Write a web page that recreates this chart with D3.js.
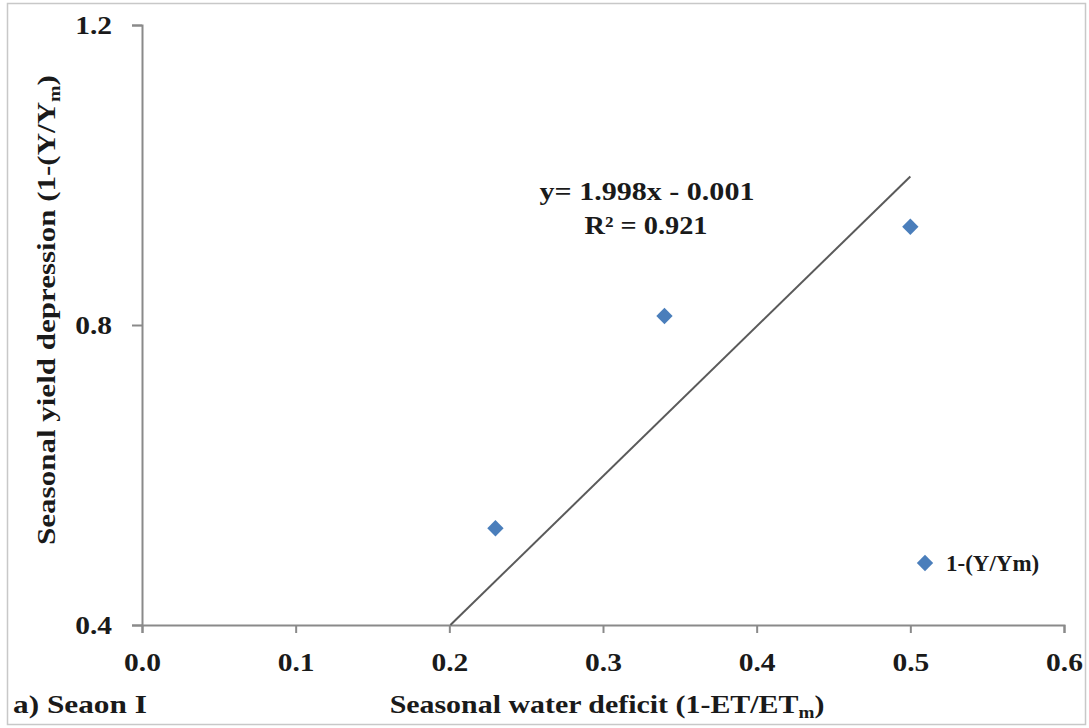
<!DOCTYPE html>
<html>
<head>
<meta charset="utf-8">
<script src="https://cdn.jsdelivr.net/npm/d3@7"></script>
<style>
  html, body { margin: 0; padding: 0; background: #fff; }
  svg text { font-family: "Liberation Serif", "Times New Roman", serif; font-weight: bold; fill: #1a1a1a; }
</style>
</head>
<body>
<svg id="chart" width="1089" height="728"></svg>
<script>
// Seasonal water deficit vs seasonal yield depression (Season I)
const waterDeficit = [0.23, 0.34, 0.50];
const yieldDepression = [0.529, 0.812, 0.931];
const seriesName = "1-(Y/Ym)";
const xTicks = [0.0, 0.1, 0.2, 0.3, 0.4, 0.5, 0.6];
const yTicks = [0.4, 0.8, 1.2];
const trendSlope = 1.998;
const trendIntercept = -0.001;
const trendR2 = 0.921;

const svg = d3.select("#chart");

// outer frame
svg.append("rect")
  .attr("x", 7.5).attr("y", 3.5)
  .attr("width", 1078).attr("height", 721)
  .attr("fill", "#fff").attr("stroke", "#c8c8c8").attr("stroke-width", 1.5);

const x = d3.scaleLinear().domain([0, 0.6]).range([142, 1064]);
const y = d3.scaleLinear().domain([0.4, 1.2]).range([625, 25]);

const axisColor = "#8a8a8a";

// stretch a text element horizontally about its anchor so it spans `width` px
function fitWidth(sel, cx, cy, width, rotate) {
  const w = sel.node().getComputedTextLength();
  const s = width / w;
  sel.attr("x", 0).attr("y", 0)
    .attr("transform", `translate(${cx},${cy})${rotate ? " rotate(-90)" : ""} scale(${s},1)`);
}

// x axis
const gx = svg.append("g").attr("transform", `translate(0,${y(0.4)})`)
  .call(d3.axisBottom(x).tickValues(xTicks).tickFormat(d3.format(".1f")).tickSizeOuter(0).tickSize(8).tickPadding(20));
gx.attr("font-family", null);
gx.select(".domain").attr("stroke", axisColor).attr("stroke-width", 2);
gx.selectAll(".tick line").attr("stroke", axisColor).attr("stroke-width", 2);
gx.selectAll(".tick text").attr("font-size", 25).attr("fill", "#1a1a1a")
  .attr("transform", "scale(1.18,1)")
  .attr("x", 0);

// y axis
const gy = svg.append("g").attr("transform", `translate(${x(0)},0)`)
  .call(d3.axisLeft(y).tickValues(yTicks).tickFormat(d3.format(".1f")).tickSizeOuter(0).tickSize(10).tickPadding(20));
gy.attr("font-family", null);
gy.select(".domain").attr("stroke", axisColor).attr("stroke-width", 2);
gy.selectAll(".tick line").attr("stroke", axisColor).attr("stroke-width", 2);
gy.selectAll(".tick text").attr("font-size", 25).attr("fill", "#1a1a1a")
  .attr("x", -30 / 1.18).attr("transform", "scale(1.18,1)");

// linear trendline, clipped to the y-axis minimum and the largest x value
const xStart = (0.4 - trendIntercept) / trendSlope;
const xEnd = d3.max(waterDeficit);
svg.append("line")
  .attr("x1", x(xStart)).attr("y1", y(trendSlope * xStart + trendIntercept))
  .attr("x2", x(xEnd)).attr("y2", y(trendSlope * xEnd + trendIntercept))
  .attr("stroke", "#5a5a5a").attr("stroke-width", 2);

// data points as diamonds
const diamond = d3.symbol().type(d3.symbolDiamond2).size(170);
svg.append("g").selectAll("path")
  .data(waterDeficit.map((d, i) => [d, yieldDepression[i]]))
  .join("path")
  .attr("d", diamond)
  .attr("transform", d => `translate(${x(d[0])},${y(d[1])})`)
  .attr("fill", "#4a7ebb");

// trendline equation
const eq1 = svg.append("text").attr("text-anchor", "middle").attr("font-size", 25)
  .text(`y= ${trendSlope}x - ${Math.abs(trendIntercept).toFixed(3)}`);
fitWidth(eq1, 647, 200, 215);
const eq2 = svg.append("text").attr("text-anchor", "middle").attr("font-size", 25)
  .text(`R² = ${trendR2}`);
fitWidth(eq2, 646, 234, 123);

// legend
svg.append("path").attr("d", diamond).attr("transform", "translate(925,563)").attr("fill", "#4a7ebb");
svg.append("text").attr("x", 946).attr("y", 571).attr("font-size", 23).text(seriesName);

// axis titles
const xt = svg.append("text").attr("text-anchor", "middle").attr("font-size", 25);
xt.append("tspan").text("Seasonal water deficit (1-ET/ET");
xt.append("tspan").attr("font-size", 16).attr("dy", 5).text("m");
xt.append("tspan").attr("dy", -5).text(")");
fitWidth(xt, 607, 713, 435);

const yt = svg.append("text").attr("text-anchor", "middle").attr("font-size", 25);
yt.append("tspan").text("Seasonal yield depression (1-(Y/Y");
yt.append("tspan").attr("font-size", 16).attr("dy", 5).text("m");
yt.append("tspan").attr("dy", -5).text(")");
fitWidth(yt, 55, 310, 470, true);

// panel label
const pl = svg.append("text").attr("text-anchor", "start").attr("font-size", 25).text("a) Seaon I");
fitWidth(pl, 13, 713, 134);
</script>
</body>
</html>
